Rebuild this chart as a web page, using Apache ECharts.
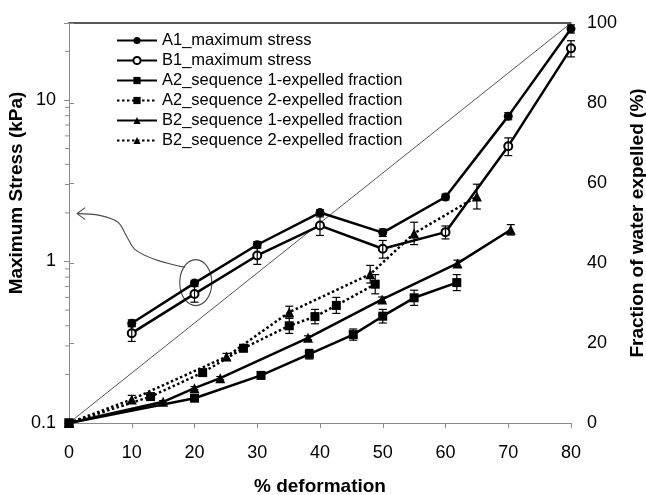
<!DOCTYPE html>
<html><head><meta charset="utf-8">
<script src="https://cdn.jsdelivr.net/npm/echarts@6/dist/echarts.min.js"></script>
<style>html,body{margin:0;padding:0;background:#fff}#c{width:646px;height:495px}</style>
</head><body><div id="c"></div>
<script>
// ---- data ----
const seriesNames = ['A1_maximum stress','B1_maximum stress','A2_sequence 1-expelled fraction','A2_sequence 2-expelled fraction','B2_sequence 1-expelled fraction','B2_sequence 2-expelled fraction'];
const leftTickLabels = ['0.1','1','10'];
const leftMinorTicks = [0.2,0.3,0.4,0.5,0.6,0.7,0.8,0.9,2,3,4,5,6,7,8,9,20];

const a1X = [10,20,30,40,50,60,70,80];
const a1Y = [0.415,0.735,1.27,2.01,1.51,2.51,7.95,27.6];
const a1Err = [0.02,0.03,0.06,0.08,0.08,0.1,0.4,1.6];

const b1X = [10,20,30,40,50,60,70,80];
const b1Y = [0.36,0.63,1.09,1.67,1.2,1.52,5.18,20.9];
const b1Err = [0.04,0.07,0.13,0.22,0.15,0.14,0.65,2.4];

const a2s1X = [0,20,30.6,38.3,45.3,50,55,61.8];
const a2s1Y = [0,6.2,11.9,17.2,22.1,26.7,31.3,35.1];
const a2s1Err = [0,0.5,0.8,1.2,1.4,1.7,1.9,2.0];

const a2s2X = [0,13,21.3,27.8,35.1,39.2,42.6,48.8];
const a2s2Y = [0,6.6,12.6,18.7,24.3,26.6,29.4,34.7];
const a2s2Err = [0,0.5,0.7,0.9,1.9,1.8,2.0,2.4];

const b2s1X = [0,15,20,24.1,38.1,49.9,61.9,70.4];
const b2s1Y = [0,5.3,8.7,11.2,21.3,30.9,39.9,48.3];
const b2s1Err = [0,0.3,0.4,0.4,0.5,0.6,0.8,1.3];

const b2s2X = [0,10,25.1,35.1,48,55,65];
const b2s2Y = [0,5.9,16.6,27.7,37.2,47.4,56.6];
const b2s2Err = [0,1.0,0.8,1.5,2.2,2.8,3.1];

const refLineX = [0,80];
const refLineY = [0,100];

// annotation (data coords on left log axis)
const annotEllipseCenter = [20.2,0.74];
const annotCurve = [[18.5,0.92],[13.7,1.03],[10.5,1.19],[9.2,1.43],[7.8,1.75],[4.9,1.93],[1.3,1.98]];

// ---- chart ----
const FONT = 'Liberation Sans, Arial, sans-serif';
const AX = '#8a8a8a';
const zip = (xs, ys) => xs.map((x,i)=>[x, ys[i]]);

function lineSeries(name, xs, ys, axis, symbol, size, dotted){
  return {name, type:'line', yAxisIndex:axis, data:zip(xs,ys), symbol, symbolSize:size,
    itemStyle:{color:'#000', borderColor:'#000', borderWidth: symbol==='emptyCircle'?1.5:0},
    lineStyle:{color:'#000', width:2.5, type: dotted ? [2.5,2.5] : 'solid'},
    z:4, animation:false};
}
function errSeries(xs, ys, es, axis){
  return {type:'custom', yAxisIndex:axis, silent:true, z:5, clip:false,
    data: xs.map((x,i)=>[x, ys[i], es[i]]), encode:{x:0,y:1},
    renderItem:(p,api)=>{
      const x=api.value(0), y=api.value(1), e=api.value(2);
      if(!e) return;
      const t=api.coord([x,y+e]), b=api.coord([x,y-e]); const w=4;
      const st={stroke:'#000', lineWidth:1.2};
      return {type:'group', children:[
        {type:'line', shape:{x1:t[0],y1:t[1],x2:b[0],y2:b[1]}, style:st},
        {type:'line', shape:{x1:t[0]-w,y1:t[1],x2:t[0]+w,y2:t[1]}, style:st},
        {type:'line', shape:{x1:b[0]-w,y1:b[1],x2:b[0]+w,y2:b[1]}, style:st}
      ]};
    }};
}

const chart = echarts.init(document.getElementById('c'), null, {renderer:'canvas'});
chart.setOption({
  animation:false,
  backgroundColor:'#fff',
  textStyle:{fontFamily:FONT},
  grid:{left:69, right:75, top:23, bottom:72, containLabel:false, outerBoundsMode:'none'},
  legend:{data:seriesNames, orient:'vertical', left:116, top:32, itemWidth:40, itemHeight:9, itemGap:3,
    padding:0, textStyle:{fontFamily:FONT, fontSize:16.5, color:'#000'}},
  xAxis:[{type:'value', min:0, max:80, interval:10,
    axisLine:{lineStyle:{color:AX, width:1}}, axisTick:{inside:false, length:5, lineStyle:{color:AX}},
    axisLabel:{fontSize:18, color:'#000', margin:21, fontFamily:FONT},
    splitLine:{show:false},
    name:'% deformation', nameLocation:'middle', nameGap:54,
    nameTextStyle:{fontSize:19, fontWeight:'bold', color:'#000', fontFamily:FONT}},
   {type:'value', position:'top', min:0, max:80, axisLine:{show:true, lineStyle:{color:'#222', width:1.5}},
    axisTick:{show:false}, axisLabel:{show:false}, splitLine:{show:false}}],
  yAxis:[{type:'log', logBase:10, min:0.1, max:30, position:'left',
    axisLine:{show:true, lineStyle:{color:AX}}, axisTick:{show:true, length:5, lineStyle:{color:AX}},
    axisLabel:{fontSize:18, color:'#000', margin:13, fontFamily:FONT,
      formatter:v=>{const l=Math.log10(v); const r=Math.round(l); return Math.abs(l-r)<1e-6 && r>=-1 && r<=1 ? leftTickLabels[r+1] : '';}},
    splitLine:{show:false}, minorTick:{show:false},
    name:'Maximum Stress (kPa)', nameLocation:'middle', nameGap:43, nameMoveOverlap:false,
    nameTextStyle:{fontSize:19, fontWeight:'bold', color:'#000', fontFamily:FONT, padding:[0,0,0,60]}},
   {type:'value', min:0, max:100, interval:20, position:'right',
    axisLine:{show:true, lineStyle:{color:AX}}, axisTick:{show:true, length:5, lineStyle:{color:AX}},
    axisLabel:{fontSize:18, color:'#000', margin:16, fontFamily:FONT},
    splitLine:{show:false},
    name:'Fraction of water expelled (%)', nameLocation:'middle', nameGap:55,
    nameTextStyle:{fontSize:19, fontWeight:'bold', color:'#000', fontFamily:FONT}}],
  series:[
    {type:'line', yAxisIndex:1, data:zip(refLineX, refLineY), symbol:'none', silent:true,
      lineStyle:{color:'#555', width:1}, z:2},
    lineSeries(seriesNames[0], a1X, a1Y, 0, 'circle', 9, false),
    lineSeries(seriesNames[1], b1X, b1Y, 0, 'emptyCircle', 8, false),
    lineSeries(seriesNames[2], a2s1X, a2s1Y, 1, 'rect', 9, false),
    lineSeries(seriesNames[3], a2s2X, a2s2Y, 1, 'rect', 9, true),
    lineSeries(seriesNames[4], b2s1X, b2s1Y, 1, 'triangle', 10, false),
    lineSeries(seriesNames[5], b2s2X, b2s2Y, 1, 'triangle', 10, true),
    errSeries(a1X, a1Y, a1Err, 0),
    errSeries(b1X, b1Y, b1Err, 0),
    errSeries(a2s1X, a2s1Y, a2s1Err, 1),
    errSeries(a2s2X, a2s2Y, a2s2Err, 1),
    errSeries(b2s1X, b2s1Y, b2s1Err, 1),
    errSeries(b2s2X, b2s2Y, b2s2Err, 1),
    {type:'custom', yAxisIndex:0, silent:true, clip:false, z:6,
      data:[[0,1]], encode:{x:0,y:1},
      renderItem:(p,api)=>{
        const x0 = api.value(0);
        return {type:'group', children: leftMinorTicks.map(v=>{
          const pt=api.coord([x0, v]);
          return {type:'line', shape:{x1:pt[0]-4,y1:pt[1],x2:pt[0],y2:pt[1]}, style:{stroke:AX,lineWidth:1}};
        })};
      }},
    {type:'custom', yAxisIndex:0, silent:true, clip:false, z:3,
      data:[annotEllipseCenter], encode:{x:0,y:1},
      renderItem:(p,api)=>{
        const c=api.coord([api.value(0),api.value(1)]);
        const pts=annotCurve.map(d=>api.coord(d));
        const tip=pts[pts.length-1];
        const st={fill:null, stroke:'#4a4a4a', lineWidth:1.1};
        return {type:'group', children:[
          {type:'ellipse', shape:{cx:c[0],cy:c[1],rx:16,ry:23}, style:st},
          {type:'polyline', shape:{points:pts, smooth:0.35}, style:st},
          {type:'polyline', shape:{points:[[tip[0]+8,tip[1]-6],[tip[0],tip[1]],[tip[0]+8,tip[1]+6]]}, style:st}
        ]};
      }}
  ]
});
</script></body></html>
